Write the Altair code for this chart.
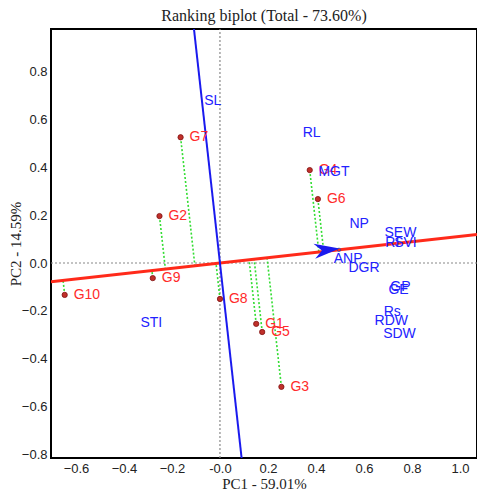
import altair as alt
import pandas as pd

# Genotype scores
genotypes = ["G1", "G2", "G3", "G4", "G5", "G6", "G7", "G8", "G9", "G10"]
gx = [0.151, -0.252, 0.256, 0.374, 0.176, 0.408, -0.164, 0.0, -0.28, -0.647]
gy = [-0.254, 0.196, -0.517, 0.388, -0.288, 0.267, 0.525, -0.15, -0.063, -0.133]

# Trait (environment) vectors
traits = ["SL", "RL", "MGT", "NP", "SEW", "RI", "SVI", "ANP", "DGR", "GP", "GE", "Rs", "RDW", "SDW", "STI"]
tx = [-0.03, 0.382, 0.475, 0.58, 0.752, 0.718, 0.773, 0.534, 0.60, 0.752, 0.744, 0.718, 0.714, 0.748, -0.286]
ty = [0.675, 0.542, 0.379, 0.163, 0.125, 0.083, 0.083, 0.017, -0.021, -0.10, -0.112, -0.204, -0.242, -0.296, -0.25]

# Average environment coordinate
ae = (0.496, 0.055)

xdom = [-0.704, 1.071]
ydom = [-0.814, 0.977]
xticks = [-0.6, -0.4, -0.2, 0.0, 0.2, 0.4, 0.6, 0.8, 1.0]
yticks = [-0.8, -0.6, -0.4, -0.2, 0.0, 0.2, 0.4, 0.6, 0.8]

gdf = pd.DataFrame({"g": genotypes, "x": gx, "y": gy})
n2 = ae[0] ** 2 + ae[1] ** 2
gdf["t"] = (gdf.x * ae[0] + gdf.y * ae[1]) / n2
gdf["px"] = gdf.t * ae[0]
gdf["py"] = gdf.t * ae[1]

tdf = pd.DataFrame({"t": traits, "x": tx, "y": ty})

slope = ae[1] / ae[0]
red = pd.DataFrame({"x": [xdom[0], xdom[1]], "y": [xdom[0] * slope, xdom[1] * slope]})
blue = pd.DataFrame({"x": [-ydom[1] * slope, -ydom[0] * slope], "y": [ydom[1], ydom[0]]})
zero_v = pd.DataFrame({"x": [0, 0], "y": ydom})
zero_h = pd.DataFrame({"x": xdom, "y": [0, 0]})
aedf = pd.DataFrame({"x": [ae[0]], "y": [ae[1]]})

X = alt.X("x:Q", scale=alt.Scale(domain=xdom, nice=False, zero=False),
          axis=alt.Axis(values=xticks, title="PC1 - 59.01%",
                        labelExpr="datum.value == 0 ? '-0.0' : format(datum.value, '.1f')"))
Y = alt.Y("y:Q", scale=alt.Scale(domain=ydom, nice=False, zero=False),
          axis=alt.Axis(values=yticks, title="PC2 - 14.59%", format=".1f"))

base_x = alt.X("x:Q", scale=alt.Scale(domain=xdom, nice=False, zero=False))
base_y = alt.Y("y:Q", scale=alt.Scale(domain=ydom, nice=False, zero=False))

zv = alt.Chart(zero_v).mark_line(color="#888888", strokeDash=[2, 2], strokeWidth=1.2).encode(x=X, y=Y)
zh = alt.Chart(zero_h).mark_line(color="#888888", strokeDash=[2, 2], strokeWidth=1.2).encode(x=base_x, y=base_y)

proj = alt.Chart(gdf).mark_rule(color="#33dd33", strokeDash=[2, 2], strokeWidth=1.6).encode(
    x=base_x, y=base_y, x2="px:Q", y2="py:Q")

redline = alt.Chart(red).mark_line(color="#ff2a1a", strokeWidth=3, clip=True).encode(x=base_x, y=base_y)
blueline = alt.Chart(blue).mark_line(color="#1a1aee", strokeWidth=2, clip=True).encode(x=base_x, y=base_y)

arrow = alt.Chart(aedf).mark_point(
    shape="M-1,-0.6 L1,0 L-1,0.6 L-0.4,0 Z", filled=True, color="#1a1aee",
    size=650, angle=353.6, opacity=1, xOffset=-12).encode(x=base_x, y=base_y)
aept = alt.Chart(aedf).mark_point(shape="circle", size=12, color="#2244aa", strokeWidth=1).encode(x=base_x, y=base_y)

pts = alt.Chart(gdf).mark_point(shape="circle", filled=True, size=28, color="#c0302a",
                                stroke="#801010", strokeWidth=0.8, opacity=1).encode(x=base_x, y=base_y)
glab = alt.Chart(gdf).mark_text(align="left", baseline="middle", dx=9, fontSize=14,
                                font="Liberation Sans", color="#ff2a2a").encode(
    x=base_x, y=base_y, text="g:N")
tlab = alt.Chart(tdf).mark_text(align="center", baseline="middle", fontSize=14,
                                font="Liberation Sans", color="#2222ff").encode(
    x=base_x, y=base_y, text="t:N")

chart = alt.layer(zv, zh, proj, redline, blueline, arrow, aept, pts, glab, tlab).properties(
    width=426, height=429,
    title=alt.TitleParams("Ranking biplot (Total - 73.60%)", font="Liberation Serif",
                          fontSize=16, fontWeight="normal", color="#222222", offset=3),
    autosize=alt.AutoSizeParams(type="none"),
    padding={"left": 51, "top": 29, "right": 0, "bottom": 33},
).configure_view(stroke="black", strokeWidth=2).configure_axis(
    grid=False, domain=False, ticks=False,
    labelFont="Liberation Sans", labelFontSize=13, labelColor="#222222", labelPadding=4,
    titleFont="Liberation Serif", titleFontSize=15, titleFontWeight="normal", titleColor="#222222",
).configure_axisX(titlePadding=1).configure_axisY(titlePadding=-2)

chart.save("out.html", embed_options={"renderer": "svg", "actions": False})
